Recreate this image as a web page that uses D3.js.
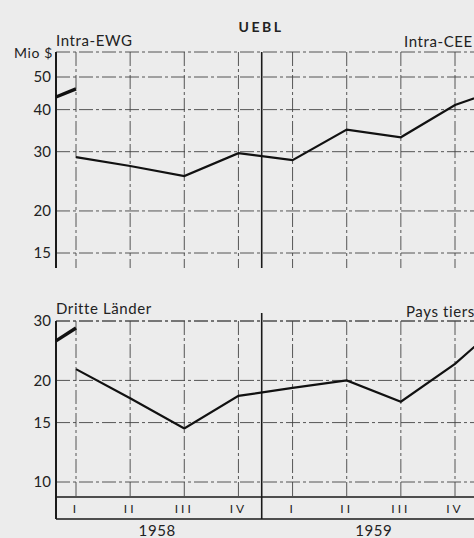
<!DOCTYPE html>
<html>
<head>
<meta charset="utf-8">
<script src="https://cdn.jsdelivr.net/npm/d3@7"></script>
<style>
  body { margin: 0; background: #ececec; }
  svg { display: block; font-family: Lato, "Open Sans", sans-serif; }
  .grid { stroke: #444; stroke-width: 0.9; stroke-dasharray: 14 3 3 3; fill: none; }
  .solid { stroke: #1a1a1a; stroke-width: 1.6; fill: none; }
  .series { stroke: #111; stroke-width: 2.2; fill: none; }
  .prior { stroke: #111; stroke-width: 3.4; fill: none; }
  .lbl { fill: #222; font-size: 15px; letter-spacing: 0.6px; }
</style>
</head>
<body>
<div class="chart"></div>
<script>
// quarters shown on the x axis (last one lies just past the cut edge)
const quarters = ["I", "II", "III", "IV", "I", "II", "III", "IV", "I"];
const years = ["1958", "1959"];

// UEBL imports, Mio $ per quarter
const intraValues = [28.9, 27.2, 25.4, 29.7, 28.3, 34.9, 33.1, 41.3, 47];
const thirdValues = [21.6, 17.7, 14.4, 18.0, 19.0, 20.0, 17.3, 22.4, 31];

// short thick segment at the left edge of each panel
const intraPrior = [43.6, 46.1];
const thirdPrior = [26.2, 28.6];

const topTicks = [15, 20, 30, 40, 50];
const bottomTicks = [10, 15, 20, 30];

const width = 474, height = 538;
const svg = d3.select(".chart").append("svg")
  .attr("width", width)
  .attr("height", height);

// x: quarter index -> px
const x = d3.scaleLinear().domain([0, 7]).range([76, 455]);
const axisX = 56;
const dividerX = x(3.43);

// panels
const panels = [
  {
    y: d3.scaleLog().domain([15, 50]).range([253, 77]),
    top: 52, bottom: 268, ticks: topTicks, values: intraValues, prior: intraPrior,
    left: "Intra-EWG", right: "Intra-CEE", leftY: 46, rightY: 47, rightX: 404
  },
  {
    y: d3.scaleLog().domain([10, 30]).range([482, 321]),
    top: 321, bottom: 497, ticks: bottomTicks, values: thirdValues, prior: thirdPrior,
    left: "Dritte Länder", right: "Pays tiers", leftY: 314, rightY: 317, rightX: 406
  }
];

panels.forEach((p, pi) => {
  const g = svg.append("g").attr("class", "panel");

  // horizontal grid
  g.selectAll(".hgrid")
    .data(p.ticks)
    .enter()
    .append("line")
    .attr("class", "grid")
    .attr("x1", axisX).attr("x2", width)
    .attr("y1", d => p.y(d)).attr("y2", d => p.y(d));

  // top frame line
  g.append("line").attr("class", "grid")
    .attr("x1", axisX).attr("x2", width)
    .attr("y1", p.top).attr("y2", p.top);

  // vertical grid on each quarter
  g.selectAll(".vgrid")
    .data(quarters.slice(0, 8))
    .enter()
    .append("line")
    .attr("class", "grid")
    .attr("x1", (d, i) => x(i)).attr("x2", (d, i) => x(i))
    .attr("y1", p.top).attr("y2", p.bottom);

  // left axis and year divider
  g.append("line").attr("class", "solid")
    .style("stroke-width", 2)
    .attr("x1", axisX).attr("x2", axisX)
    .attr("y1", p.top).attr("y2", pi === 0 ? p.bottom : 519);
  g.append("line").attr("class", "solid")
    .attr("x1", dividerX).attr("x2", dividerX)
    .attr("y1", pi === 0 ? p.top : 313).attr("y2", pi === 0 ? p.bottom : 519);

  // tick labels
  const axis = d3.axisLeft(p.y).tickValues(p.ticks).tickFormat(d3.format("d"))
    .tickSize(0).tickPadding(4);
  g.append("g")
    .attr("transform", `translate(${axisX - 1},0)`)
    .call(axis)
    .call(s => s.select(".domain").remove())
    .selectAll("text")
    .attr("fill", "#222")
    .style("font-size", "15px")
    .style("font-family", "Lato, sans-serif");

  // data line
  const line = d3.line()
    .x((d, i) => x(i))
    .y(d => p.y(d));
  g.append("path").attr("class", "series").attr("d", line(p.values));

  // prior segment from axis to first quarter
  const priorLine = d3.line()
    .x((d, i) => i === 0 ? axisX : x(0))
    .y(d => p.y(d));
  g.append("path").attr("class", "prior").attr("d", priorLine(p.prior));

  // panel labels
  g.append("text").attr("class", "lbl")
    .attr("x", axisX).attr("y", p.leftY).text(p.left);
  g.append("text").attr("class", "lbl")
    .attr("x", p.rightX).attr("y", p.rightY).text(p.right);
});

// title and unit
svg.append("text")
  .attr("x", 261).attr("y", 32)
  .attr("text-anchor", "middle")
  .style("font-weight", "bold")
  .style("font-size", "14px")
  .style("letter-spacing", "2.5px")
  .attr("fill", "#222")
  .text("UEBL");
svg.append("text").attr("class", "lbl")
  .attr("x", 53).attr("y", 58)
  .attr("text-anchor", "end")
  .style("font-size", "14px")
  .text("Mio $");

// quarter band at the bottom
svg.append("line").attr("class", "solid")
  .attr("x1", axisX).attr("x2", width).attr("y1", 497).attr("y2", 497);
svg.append("line").attr("class", "solid")
  .attr("x1", axisX).attr("x2", width).attr("y1", 519).attr("y2", 519);

svg.selectAll(".qlabel")
  .data(quarters.slice(0, 8))
  .enter()
  .append("text")
  .attr("class", "lbl")
  .attr("x", (d, i) => x(i))
  .attr("y", 513)
  .attr("text-anchor", "middle")
  .style("font-size", "12px")
  .style("letter-spacing", "3px")
  .text(d => d);

svg.selectAll(".ylabel")
  .data(years)
  .enter()
  .append("text")
  .attr("class", "lbl")
  .attr("x", (d, i) => (x(i * 4) + x(i * 4 + 3)) / 2)
  .attr("y", 536)
  .attr("text-anchor", "middle")
  .style("font-size", "15px")
  .text(d => d);
</script>
</body>
</html>
